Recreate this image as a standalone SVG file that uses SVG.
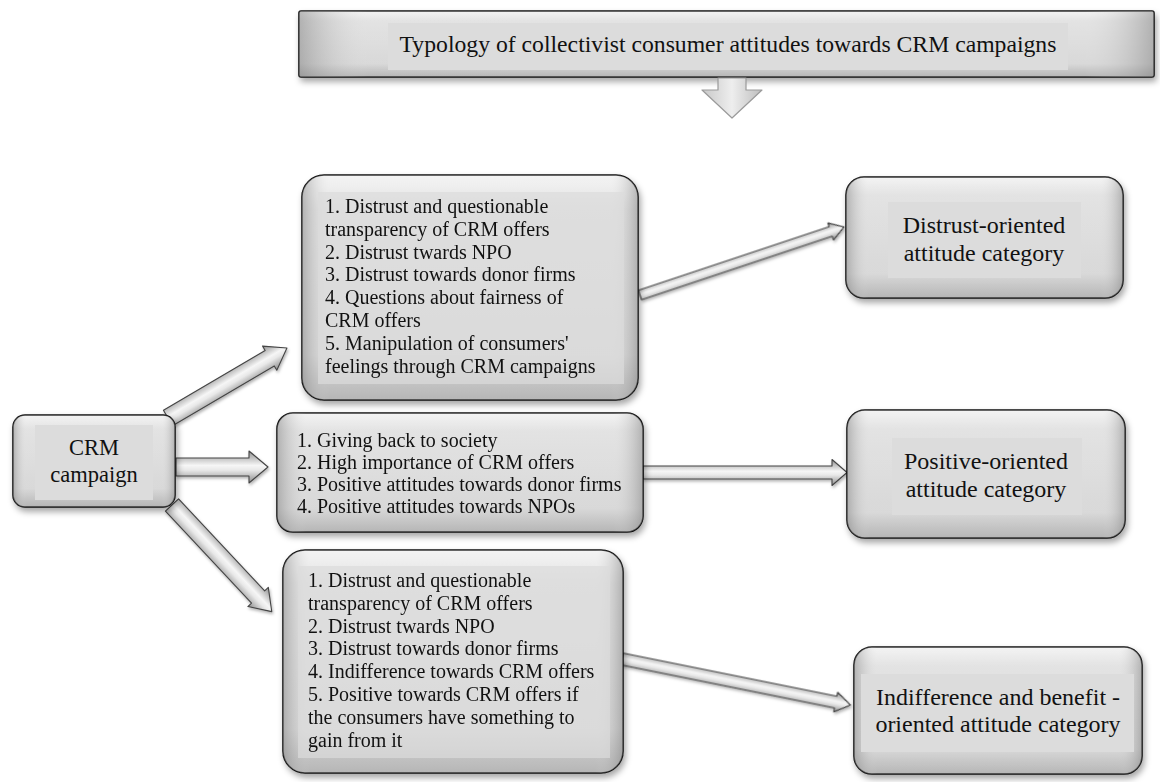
<svg xmlns="http://www.w3.org/2000/svg" width="1160" height="782" viewBox="0 0 1160 782">
<defs>
<linearGradient id="boxV" x1="0" y1="0" x2="0" y2="1">
<stop offset="0" stop-color="#f2f2f2"/>
<stop offset="0.15" stop-color="#dedede"/>
<stop offset="0.8" stop-color="#d2d2d2"/>
<stop offset="1" stop-color="#a9a9a9"/>
</linearGradient>
<linearGradient id="boxH" x1="0" y1="0" x2="1" y2="0">
<stop offset="0" stop-color="#8c8c8c" stop-opacity="0.55"/>
<stop offset="0.08" stop-color="#ffffff" stop-opacity="0.15"/>
<stop offset="0.92" stop-color="#ffffff" stop-opacity="0.15"/>
<stop offset="1" stop-color="#8c8c8c" stop-opacity="0.55"/>
</linearGradient>
<linearGradient id="arrG" x1="0" y1="0" x2="0" y2="1">
<stop offset="0" stop-color="#8f8f8f"/>
<stop offset="0.45" stop-color="#f6f6f6"/>
<stop offset="0.6" stop-color="#e8e8e8"/>
<stop offset="1" stop-color="#8a8a8a"/>
</linearGradient>
<linearGradient id="downG" x1="0" y1="0" x2="1" y2="0">
<stop offset="0" stop-color="#c8c8c8"/>
<stop offset="0.5" stop-color="#eeeeee"/>
<stop offset="1" stop-color="#bdbdbd"/>
</linearGradient>
<filter id="sh" x="-10%" y="-10%" width="130%" height="140%">
<feDropShadow dx="2" dy="4" stdDeviation="3" flood-color="#000" flood-opacity="0.35"/>
</filter>
<filter id="ash" x="-10%" y="-30%" width="130%" height="160%">
<feDropShadow dx="1" dy="2" stdDeviation="1.5" flood-color="#000" flood-opacity="0.3"/>
</filter>
</defs>
<style>
.box{fill:url(#boxV);stroke:#111;stroke-width:1.6}
.ov{fill:url(#boxH);stroke:none}
.pan{fill:#dcdcdc;stroke:none}
.t{font-family:"Liberation Serif","Times New Roman",serif;fill:#111}
.b{font-size:20px}
.c{font-size:24px;text-anchor:middle}
.arr{fill:url(#arrG);stroke:#444;stroke-width:1.1;stroke-linejoin:round}
</style>
<rect width="1160" height="782" fill="#ffffff"/>

<g id="title">
<rect x="299" y="11" width="855" height="66" rx="2" class="box" filter="url(#sh)"/>
<rect x="299" y="11" width="855" height="66" rx="2" class="ov"/>
<rect x="388" y="23" width="680" height="47" class="pan"/>
<text x="728" y="52" class="t" font-size="23.7" text-anchor="middle">Typology of collectivist consumer attitudes towards CRM campaigns</text>
</g>

<g id="connectors">
<polygon points="718,78 746,78 746,90 762,90 732,118 702,90 718,90" fill="url(#downG)" stroke="#9a9a9a" stroke-width="1.2" stroke-linejoin="round"/>
<g filter="url(#ash)">
<polygon class="arr" transform="translate(168,418) rotate(-30.47)" points="0,-9 118,-9 118,-14 138,0 118,14 118,9 0,9"/>
<polygon class="arr" transform="translate(176,467)" points="0,-9 73,-9 73,-16 92,0 73,16 73,9 0,9"/>
<polygon class="arr" transform="translate(172,505) rotate(46.9)" points="0,-9 126,-9 126,-14 146,0 126,14 126,9 0,9"/>
<polygon class="arr" transform="translate(640,295) rotate(-18.43)" points="0,-5 201,-5 201,-9 215,0 201,9 201,5 0,5"/>
<polygon class="arr" transform="translate(643,472.5)" points="0,-6.5 189,-6.5 189,-13 204,0 189,13 189,6.5 0,6.5"/>
<polygon class="arr" transform="translate(622,659) rotate(11.4)" points="0,-6 218,-6 218,-10 233,0 218,10 218,6 0,6"/>
</g>
</g>

<g id="crm">
<rect x="13" y="415" width="162" height="92" rx="12" class="box" filter="url(#sh)"/>
<rect x="13" y="415" width="162" height="92" rx="12" class="ov"/>
<rect x="35" y="425" width="118" height="75" class="pan"/>
<text class="t" x="94" y="455" font-size="22.5" text-anchor="middle">CRM</text>
<text class="t" x="94" y="482" font-size="22.5" text-anchor="middle">campaign</text>
</g>

<g id="reasons-distrust">
<rect x="302" y="175" width="336" height="225" rx="22" class="box" filter="url(#sh)"/>
<rect x="302" y="175" width="336" height="225" rx="22" class="ov"/>
<rect x="318" y="192" width="306" height="192" class="pan" opacity="0.7"/>
<text class="t b" x="325" y="213">1. Distrust  and questionable</text>
<text class="t b" x="325" y="236">transparency of CRM offers</text>
<text class="t b" x="325" y="259">2. Distrust  twards NPO</text>
<text class="t b" x="325" y="281">3. Distrust  towards donor firms</text>
<text class="t b" x="325" y="304">4. Questions  about fairness  of</text>
<text class="t b" x="325" y="327">CRM offers</text>
<text class="t b" x="325" y="350">5. Manipulation of  consumers'</text>
<text class="t b" x="325" y="373">feelings through CRM campaigns</text>
</g>

<g id="reasons-positive">
<rect x="277" y="413" width="366" height="119" rx="16" class="box" filter="url(#sh)"/>
<rect x="277" y="413" width="366" height="119" rx="16" class="ov"/>
<text class="t b" x="297" y="447">1. Giving  back to society</text>
<text class="t b" x="297" y="469">2. High importance of CRM offers</text>
<text class="t b" x="297" y="491">3. Positive  attitudes towards donor firms</text>
<text class="t b" x="297" y="513">4. Positive  attitudes towards NPOs</text>
</g>

<g id="reasons-indifference">
<rect x="283" y="550" width="340" height="223" rx="22" class="box" filter="url(#sh)"/>
<rect x="283" y="550" width="340" height="223" rx="22" class="ov"/>
<rect x="298" y="566" width="312" height="192" class="pan" opacity="0.7"/>
<text class="t b" x="308" y="587">1. Distrust  and questionable</text>
<text class="t b" x="308" y="610">transparency of CRM offers</text>
<text class="t b" x="308" y="633">2. Distrust  twards NPO</text>
<text class="t b" x="308" y="655">3. Distrust  towards donor firms</text>
<text class="t b" x="308" y="678">4. Indifference towards CRM offers</text>
<text class="t b" x="308" y="701">5. Positive  towards CRM offers if</text>
<text class="t b" x="308" y="724">the consumers have something to</text>
<text class="t b" x="308" y="747">gain from it</text>
</g>

<g id="cat-distrust">
<rect x="846" y="177" width="277" height="121" rx="18" class="box" filter="url(#sh)"/>
<rect x="846" y="177" width="277" height="121" rx="18" class="ov"/>
<rect x="888" y="202" width="193" height="76" class="pan"/>
<text class="t c" x="984" y="233">Distrust-oriented</text>
<text class="t c" x="984" y="261">attitude category</text>
</g>

<g id="cat-positive">
<rect x="847" y="410" width="278" height="128" rx="18" class="box" filter="url(#sh)"/>
<rect x="847" y="410" width="278" height="128" rx="18" class="ov"/>
<rect x="892" y="438" width="190" height="77" class="pan"/>
<text class="t c" x="986" y="469">Positive-oriented</text>
<text class="t c" x="986" y="497">attitude category</text>
</g>

<g id="cat-indifference">
<rect x="854" y="647" width="288" height="127" rx="18" class="box" filter="url(#sh)"/>
<rect x="854" y="647" width="288" height="127" rx="18" class="ov"/>
<rect x="861" y="674" width="273" height="78" class="pan"/>
<text class="t c" x="998" y="705">Indifference and benefit -</text>
<text class="t c" x="998" y="732">oriented attitude category</text>
</g>
</svg>
